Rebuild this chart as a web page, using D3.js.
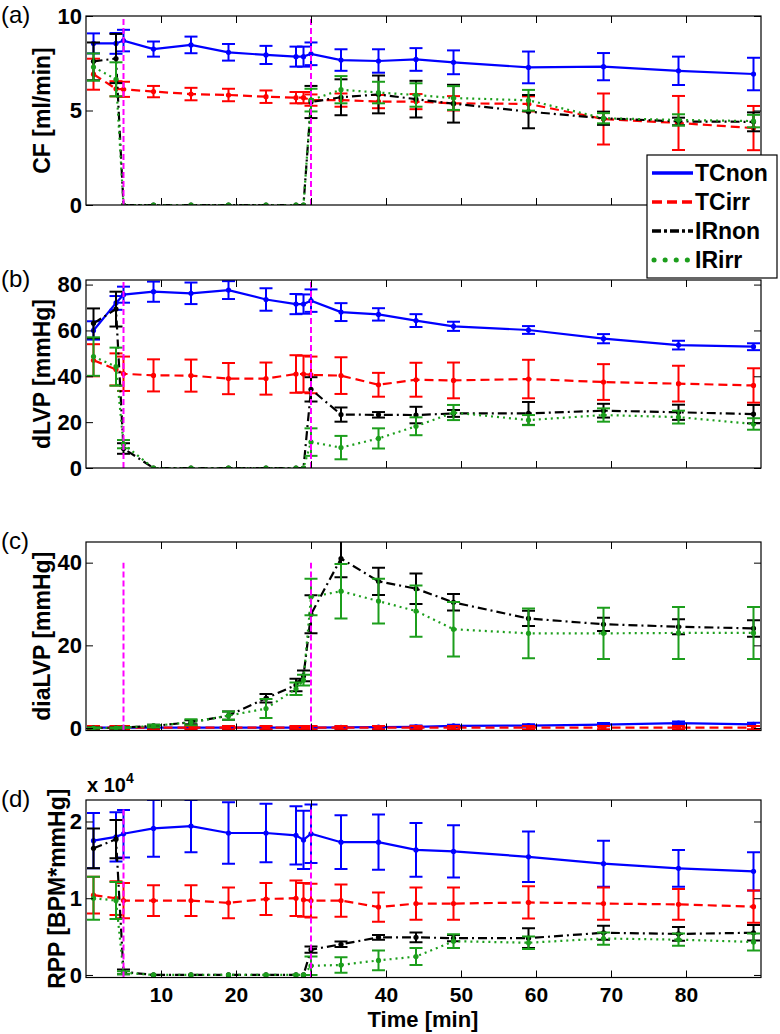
<!DOCTYPE html>
<html><head><meta charset="utf-8">
<script src="https://cdn.jsdelivr.net/npm/d3@7"></script>
<style>body{margin:0;background:#fff}svg{display:block}text{font-family:"Liberation Sans",Arial,sans-serif}</style>
</head><body>
<svg id="chart" width="780" height="1034"></svg>
<script>
const times = [1,4,5,9,14,19,24,28,29,30,34,39,44,49,59,69,79,89];
const seriesNames = ["TCnon","TCirr","IRnon","IRirr"];
const xTicks = [10,20,30,40,50,60,70,80];
const eventTimes = [5,30];

// (a) CF [ml/min]
const cfTCnon = [8.55,8.55,8.7,8.25,8.47,8.08,7.94,7.85,7.85,8.0,7.67,7.62,7.7,7.55,7.28,7.32,7.1,6.93];
const cfTCnonErr = [0.53,0.55,0.57,0.4,0.44,0.44,0.48,0.53,0.53,0.6,0.57,0.62,0.6,0.63,0.84,0.72,0.75,0.86];
const cfTCirr = [6.92,6.15,6.12,6.0,5.87,5.82,5.73,5.68,5.68,5.55,5.55,5.47,5.47,5.38,5.35,4.55,4.34,4.07];
const cfTCirrErr = [0.82,0.4,0.4,0.3,0.33,0.33,0.33,0.3,0.3,0.3,0.35,0.35,0.4,0.38,0.4,1.35,1.43,1.17];
const cfIRnon = [7.6,7.75,0,0,0,0,0,0,0,5.45,5.7,5.85,5.6,5.36,4.94,4.59,4.42,4.4];
const cfIRnonErr = [1.0,1.3,0,0,0,0,0,0,0,0.85,0.95,1.0,0.97,1.0,0.88,0.35,0.2,0.5];
const cfIRirr = [7.3,6.65,0,0,0,0,0,0,0,5.55,6.1,5.95,5.82,5.66,5.54,4.59,4.5,4.44];
const cfIRirrErr = [0.72,0.9,0,0,0,0,0,0,0,0.6,0.72,0.57,0.62,0.63,0.55,0.27,0.3,0.33];

// (b) dLVP [mmHg]
const dlTCnon = [60,72,75.6,76.9,76.2,77.6,73.5,71.5,71.5,73,68,67,64.3,61.8,60.2,56.4,53.6,52.9];
const dlTCnonErr = [4,3,3.5,4.4,4.7,3.9,4.9,4.4,4.2,4.9,3.9,2.7,2.8,2,1.7,2,1.9,1.5];
const dlTCirr = [47,43,41.1,40.4,40.3,39,39,41,41,40.6,40.3,36.3,38.5,38.2,38.8,37.5,36.8,36];
const dlTCirrErr = [7,7,7.5,7,7,6.8,7,8.2,8,8,8,5.2,7.4,7.8,8.4,7.8,7.8,7.5];
const dlIRnon = [63.1,69.3,8.5,0,0,0,0,0,0,34.3,23.3,23.2,23.1,23.8,23.8,25,24.3,23.5];
const dlIRnonErr = [6.5,7.6,2.3,0,0,0,0,0,0,5.3,3.1,1.2,3.6,1.5,5,3,3.3,4];
const dlIRirr = [48.6,44.2,10.4,0,0,0,0,0,0,11.3,8.9,12.9,18.2,24.2,20.9,23.1,22.2,19.2];
const dlIRirrErr = [8.4,8.3,1.8,0,0,0,0,0,0,6,5.1,4.4,3.9,3.3,2.2,2.9,2.8,2.5];

// (c) diaLVP [mmHg]
const diaTCnon = [0.1,0.1,0.1,0.1,0.1,0.1,0.1,0.1,0.1,0.1,0.15,0.2,0.3,0.5,0.6,0.8,1.2,0.9];
const diaTCnonErr = [0.2,0.2,0.2,0.2,0.2,0.2,0.2,0.2,0.2,0.2,0.2,0.2,0.3,0.3,0.3,0.4,0.4,0.4];
const diaTCirr = [0.1,0.1,0.1,0.1,0.1,0.1,0.1,0.1,0.1,0.1,0.1,0.1,0.1,0.1,0.1,0.1,0.1,0.1];
const diaTCirrErr = [0.4,0.4,0.4,0.4,0.4,0.4,0.4,0.4,0.4,0.4,0.4,0.4,0.4,0.4,0.4,0.4,0.4,0.4];
const diaIRnon = [0,0,0.1,0.5,1.4,3.0,7.2,10.4,12.6,27.5,41,35.5,33.7,30.4,26.5,25.1,24.5,24.1];
const diaIRnonErr = [0.1,0.1,0.1,0.3,0.5,1,1,1.5,1.3,4.6,4.5,3.3,3.7,2,1.85,1.6,1.8,2];
const diaIRirr = [0,0,0.1,0.5,1.4,3.0,4.7,9.5,11.6,31.7,33.1,30.7,28.3,23.9,22.9,22.9,23,23];
const diaIRirrErr = [0.1,0.1,0.1,0.3,0.7,1,2.3,1.5,1.3,4.4,6.6,5.4,6.2,6.6,6,6.2,6.3,6.3];

// (d) RPP [BPM*mmHg] (x 10^4)
const rppTCnon = [1.75,1.8,1.84,1.91,1.94,1.85,1.85,1.82,1.76,1.84,1.73,1.73,1.63,1.61,1.54,1.45,1.39,1.35];
const rppTCnonErr = [0.36,0.32,0.31,0.37,0.34,0.4,0.38,0.38,0.38,0.38,0.35,0.36,0.35,0.34,0.33,0.3,0.24,0.25];
const rppTCirr = [1.04,1.0,0.97,0.97,0.97,0.94,0.99,1.0,0.98,0.97,0.97,0.885,0.93,0.93,0.945,0.93,0.92,0.89];
const rppTCirrErr = [0.24,0.22,0.23,0.2,0.2,0.2,0.21,0.23,0.22,0.22,0.21,0.19,0.21,0.21,0.21,0.21,0.2,0.21];
const rppIRnon = [1.65,1.77,0.04,0,0,0,0,0,0,0.33,0.4,0.49,0.49,0.48,0.48,0.55,0.535,0.55];
const rppIRnonErr = [0.26,0.25,0.03,0,0,0,0,0,0,0.04,0.035,0.03,0.065,0.04,0.13,0.09,0.09,0.1];
const rppIRirr = [1.0,0.97,0.03,0,0,0,0,0,0,0.12,0.13,0.19,0.24,0.44,0.42,0.475,0.46,0.43];
const rppIRirrErr = [0.28,0.24,0.02,0,0,0,0,0,0,0.12,0.1,0.13,0.11,0.09,0.08,0.08,0.08,0.11];

const panelLabels = ["(a)","(b)","(c)","(d)"];
const yLabels = ["CF [ml/min]","dLVP [mmHg]","diaLVP [mmHg]","RPP [BPM*mmHg]"];
const yTicksA = [0,5,10], yTicksB = [0,20,40,60,80], yTicksC = [0,20,40], yTicksD = [0,1,2];

const styles = {
  TCnon:{color:"#0000ff", dash:null},
  TCirr:{color:"#ff0000", dash:"9 5"},
  IRnon:{color:"#000000", dash:"9 4 2 4"},
  IRirr:{color:"#1c9e1c", dash:"2 4"}
};

const panels = [
  {top:16,  bottom:205,   domain:[0,10],     ticks:yTicksA, vals:[cfTCnon,cfTCirr,cfIRnon,cfIRirr], errs:[cfTCnonErr,cfTCirrErr,cfIRnonErr,cfIRirrErr], evTop:10,   labelX:50},
  {top:280, bottom:468,   domain:[0,82],     ticks:yTicksB, vals:[dlTCnon,dlTCirr,dlIRnon,dlIRirr], errs:[dlTCnonErr,dlTCirrErr,dlIRnonErr,dlIRirrErr], evTop:82,   labelX:50},
  {top:542, bottom:730.5, domain:[-0.6,45],  ticks:yTicksC, vals:[diaTCnon,diaTCirr,diaIRnon,diaIRirr], errs:[diaTCnonErr,diaTCirrErr,diaIRnonErr,diaIRirrErr], evTop:40, labelX:50},
  {top:800, bottom:977.5, domain:[-0.033,2.28], ticks:yTicksD, vals:[rppTCnon,rppTCirr,rppIRnon,rppIRirr], errs:[rppTCnonErr,rppTCirrErr,rppIRnonErr,rppIRirrErr], evTop:2.16, labelX:65}
];

const svg = d3.select("#chart");
const left = 86, right = 761;
const x = d3.scaleLinear().domain([0,90]).range([left,right]);
const tickFont = "22px", labelFont = "23px";

panels.forEach((p,pi)=>{
  const y = d3.scaleLinear().domain(p.domain).range([p.bottom,p.top]);
  const g = svg.append("g");
  const clipId = "clip"+pi;
  svg.append("clipPath").attr("id",clipId).append("rect")
    .attr("x",left).attr("y",p.top).attr("width",right-left).attr("height",p.bottom-p.top);
  const plot = g.append("g").attr("clip-path",`url(#${clipId})`);

  seriesNames.forEach((name,si)=>{
    const st = styles[name];
    const vals = p.vals[si], errs = p.errs[si];
    const data = times.map((t,i)=>({t, v:vals[i], e:errs[i]}));
    const line = d3.line().x(d=>x(d.t)).y(d=>y(d.v));
    plot.append("path").datum(data).attr("d",line)
      .attr("fill","none").attr("stroke",st.color).attr("stroke-width",2.2)
      .attr("stroke-dasharray",st.dash);
    const eb = plot.append("g").attr("stroke",st.color).attr("stroke-width",2).attr("fill","none");
    data.filter(d=>d.e>0).forEach(d=>{
      const cx = x(d.t), y1 = y(d.v-d.e), y2 = y(d.v+d.e);
      eb.append("line").attr("x1",cx).attr("x2",cx).attr("y1",y1).attr("y2",y2);
      eb.append("line").attr("x1",cx-6.5).attr("x2",cx+6.5).attr("y1",y1).attr("y2",y1);
      eb.append("line").attr("x1",cx-6.5).attr("x2",cx+6.5).attr("y1",y2).attr("y2",y2);
    });
    plot.append("g").selectAll("circle").data(data).join("circle")
      .attr("cx",d=>x(d.t)).attr("cy",d=>y(d.v)).attr("r",2.6).attr("fill",st.color);
  });

  // event lines
  plot.selectAll(".ev").data(eventTimes).join("line")
    .attr("x1",d=>x(d)).attr("x2",d=>x(d))
    .attr("y1",p.bottom).attr("y2",y(p.evTop))
    .attr("stroke","#ff00ff").attr("stroke-width",2).attr("stroke-dasharray","6 3");

  // axes (inner ticks, both sides)
  const axB = d3.axisBottom(x).tickValues(xTicks).tickSizeInner(-7).tickSizeOuter(0).tickFormat(pi===3?d3.format("d"):"");
  const axT = d3.axisTop(x).tickValues(xTicks).tickSizeInner(-7).tickSizeOuter(0).tickFormat("");
  const axL = d3.axisLeft(y).tickValues(p.ticks).tickSizeInner(-7).tickSizeOuter(0).tickFormat(d3.format("d"));
  const axR = d3.axisRight(y).tickValues(p.ticks).tickSizeInner(-7).tickSizeOuter(0).tickFormat("");
  const gb = g.append("g").attr("transform",`translate(0,${p.bottom})`).call(axB);
  g.append("g").attr("transform",`translate(0,${p.top})`).call(axT);
  const gl = g.append("g").attr("transform",`translate(${left},0)`).call(axL);
  g.append("g").attr("transform",`translate(${right},0)`).call(axR);
  g.selectAll(".domain").remove();
  g.selectAll(".tick line").attr("stroke","#000").attr("stroke-width",1);
  gl.selectAll(".tick text").attr("x",-4).attr("font-size",tickFont).attr("font-weight","bold").attr("fill","#000");
  gb.selectAll(".tick text").attr("y",24).attr("dy",null).attr("font-size","21px").attr("font-weight","bold").attr("fill","#000");
  g.append("rect").attr("x",left).attr("y",p.top).attr("width",right-left).attr("height",p.bottom-p.top)
    .attr("fill","none").attr("stroke","#000").attr("stroke-width",1.2);

  // panel label
  g.append("text").attr("x",1).attr("y",p.top+7).attr("font-size","24px").text(panelLabels[pi]);
  // y label
  g.append("text").attr("transform",`translate(${p.labelX},${(p.top+p.bottom)/2}) rotate(-90)`)
    .attr("text-anchor","middle").attr("font-size",labelFont).attr("font-weight","bold").text(yLabels[pi]);
});

// exponent
const ex = svg.append("text").attr("x",87).attr("y",792).attr("font-size","20px").attr("font-weight","bold");
ex.append("tspan").text("x 10");
ex.append("tspan").attr("dy",-9).attr("font-size","14px").text("4");

// x label
svg.append("text").attr("x",423).attr("y",1027).attr("text-anchor","middle")
  .attr("font-size","22px").attr("font-weight","bold").text("Time [min]");

// legend
const lg = svg.append("g");
lg.append("rect").attr("x",647).attr("y",155).attr("width",130).attr("height",123)
  .attr("fill","#fff").attr("stroke","#000").attr("stroke-width",1.2);
const legendDash = {TCnon:null, TCirr:"10 5", IRnon:"9 3 3 3", IRirr:"0.1 11"};
seriesNames.forEach((name,i)=>{
  const cy = 173 + i*29;
  lg.append("line").attr("x1",name==="IRirr"?654:652).attr("x2",693).attr("y1",cy).attr("y2",cy)
    .attr("stroke",styles[name].color).attr("stroke-width",name==="IRirr"?5:3.5)
    .attr("stroke-linecap",name==="IRirr"?"round":"butt")
    .attr("stroke-dasharray",legendDash[name]);
  lg.append("text").attr("x",695).attr("y",cy+8).attr("font-size","23px").attr("font-weight","bold").text(name);
});
</script>
</body></html>
